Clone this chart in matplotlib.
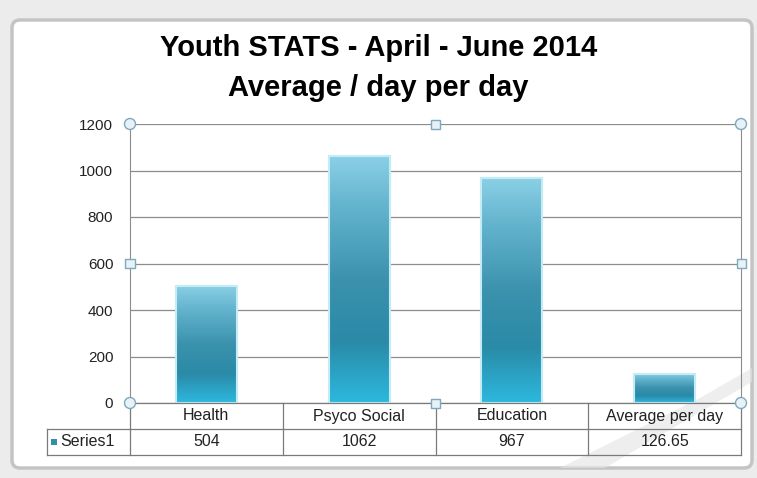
import numpy as np
import matplotlib.pyplot as plt
from matplotlib.patches import FancyBboxPatch, Circle, Rectangle, Polygon
from matplotlib.colors import LinearSegmentedColormap

plt.rcParams['font.family'] = ['Liberation Sans', 'DejaVu Sans']

# data
categories = ['Health', 'Psyco Social', 'Education', 'Average per day']
values = [504, 1062, 967, 126.65]
value_labels = ['504', '1062', '967', '126.65']
series_name = 'Series1'
yticks = [0, 200, 400, 600, 800, 1000, 1200]

W, H = 757, 478
fig = plt.figure(figsize=(W / 100, H / 100), dpi=100, facecolor='#ececec')
tr = fig.dpi_scale_trans


# pixel (from top-left) -> inches
def px(x, y):
    return (x / 100, (H - y) / 100)


def fx(p):
    return p / W


def fy(p):
    return 1 - p / H


# outer chart frame
x0, y0 = px(12, 468)
frame = FancyBboxPatch((x0, y0), 7.40, 4.48,
                       boxstyle='round,pad=0,rounding_size=0.08',
                       transform=tr, facecolor='white',
                       edgecolor='#c4c4c4', linewidth=2.5, zorder=0)
fig.patches.append(frame)

# faint swoosh at the bottom right
sw = Polygon([px(560, 468), px(700, 398), px(752, 368),
              px(752, 382), px(690, 418), px(605, 468)],
             closed=True, transform=tr, facecolor='#e4e4e4',
             edgecolor='none', alpha=0.6, zorder=0.5)
fig.patches.append(sw)

left, right, top, bottom = 130, 741, 124, 403
ax = fig.add_axes([fx(left), fy(bottom), (right - left) / W, (bottom - top) / H], zorder=2)
ax.set_facecolor('none')

x = np.arange(len(categories))
bars = ax.bar(x, values, width=0.4, color='none', edgecolor='#c4ecf7',
              linewidth=1.5, zorder=3)

cmap = LinearSegmentedColormap.from_list('bar', [
    (0.0, '#8ad0e5'), (0.2, '#64b4ce'), (0.5, '#3b92ad'),
    (0.75, '#2a8aa7'), (1.0, '#2db8de')])
grad = np.linspace(0, 1, 256).reshape(-1, 1)
for b in bars:
    im = ax.imshow(grad, extent=[b.get_x(), b.get_x() + b.get_width(), 0, b.get_height()],
                   aspect='auto', cmap=cmap, zorder=2, origin='upper')
    im.set_clip_path(b)

ax.set_xlim(-0.5, len(categories) - 0.5)
ax.set_ylim(0, 1200)
ax.set_yticks(yticks)
ax.set_yticklabels([str(t) for t in yticks], fontsize=11, color='#222222')
ax.set_xticks([])
ax.tick_params(axis='y', length=0, pad=12)
ax.grid(axis='y', color='#8c8c8c', linewidth=0.9, zorder=1)
ax.set_axisbelow(True)
for s in ['top', 'bottom']:
    ax.spines[s].set_visible(False)
ax.spines['left'].set_color('#8c8c8c')
ax.spines['right'].set_color('#8c8c8c')

# data table under the axes
row1, row2, row3 = 403, 429, 455
col_w = (right - left) / len(categories)
lc = '#7a7a7a'
lines = [((left, row1), (right, row1)), ((left, row2), (right, row2)),
         ((47, row2), (left, row2)), ((47, row3), (right, row3)),
         ((47, row2), (47, row3))]
for i in range(len(categories) + 1):
    xx = left + i * col_w
    lines.append(((xx, row1), (xx, row3)))
for a, b in lines:
    pa, pb = px(*a), px(*b)
    fig.add_artist(plt.Line2D([pa[0], pb[0]], [pa[1], pb[1]], color=lc,
                              linewidth=0.9, transform=tr, zorder=3))
for i, (c, v) in enumerate(zip(categories, value_labels)):
    cx = left + (i + 0.5) * col_w
    fig.text(fx(cx), fy((row1 + row2) / 2), c, ha='center', va='center',
             fontsize=11.5, color='#222222')
    fig.text(fx(cx), fy((row2 + row3) / 2), v, ha='center', va='center',
             fontsize=11.5, color='#222222')
fig.patches.append(Rectangle(px(51, 445), 0.06, 0.06, transform=tr,
                             facecolor='#2f8fab', edgecolor='none', zorder=3))
fig.text(fx(60), fy((row2 + row3) / 2), series_name, ha='left', va='center',
         fontsize=11.5, color='#222222')

# selection handles
for hx, hy in [(left, top), (right, top), (right, bottom), (left, bottom)]:
    fig.patches.append(Circle(px(hx, hy), 0.055, transform=tr,
                              facecolor='#e6f2f7', edgecolor='#7fa8bb', linewidth=1, zorder=5))
for hx, hy in [((left + right) / 2, top), (left, (top + bottom) / 2),
               (right, (top + bottom) / 2), ((left + right) / 2, bottom)]:
    fig.patches.append(Rectangle(px(hx - 4.5, hy + 4.5), 0.09, 0.09,
                                 transform=tr, facecolor='#e6f2f7',
                                 edgecolor='#7fa8bb', linewidth=1, zorder=5))

fig.text(0.5, fy(48), 'Youth STATS - April - June 2014', ha='center', va='center',
         fontsize=21, fontweight='bold', color='black')
fig.text(0.5, fy(88), 'Average / day per day', ha='center', va='center',
         fontsize=21, fontweight='bold', color='black')

fig.savefig('out.png', dpi=100, facecolor=fig.get_facecolor())
